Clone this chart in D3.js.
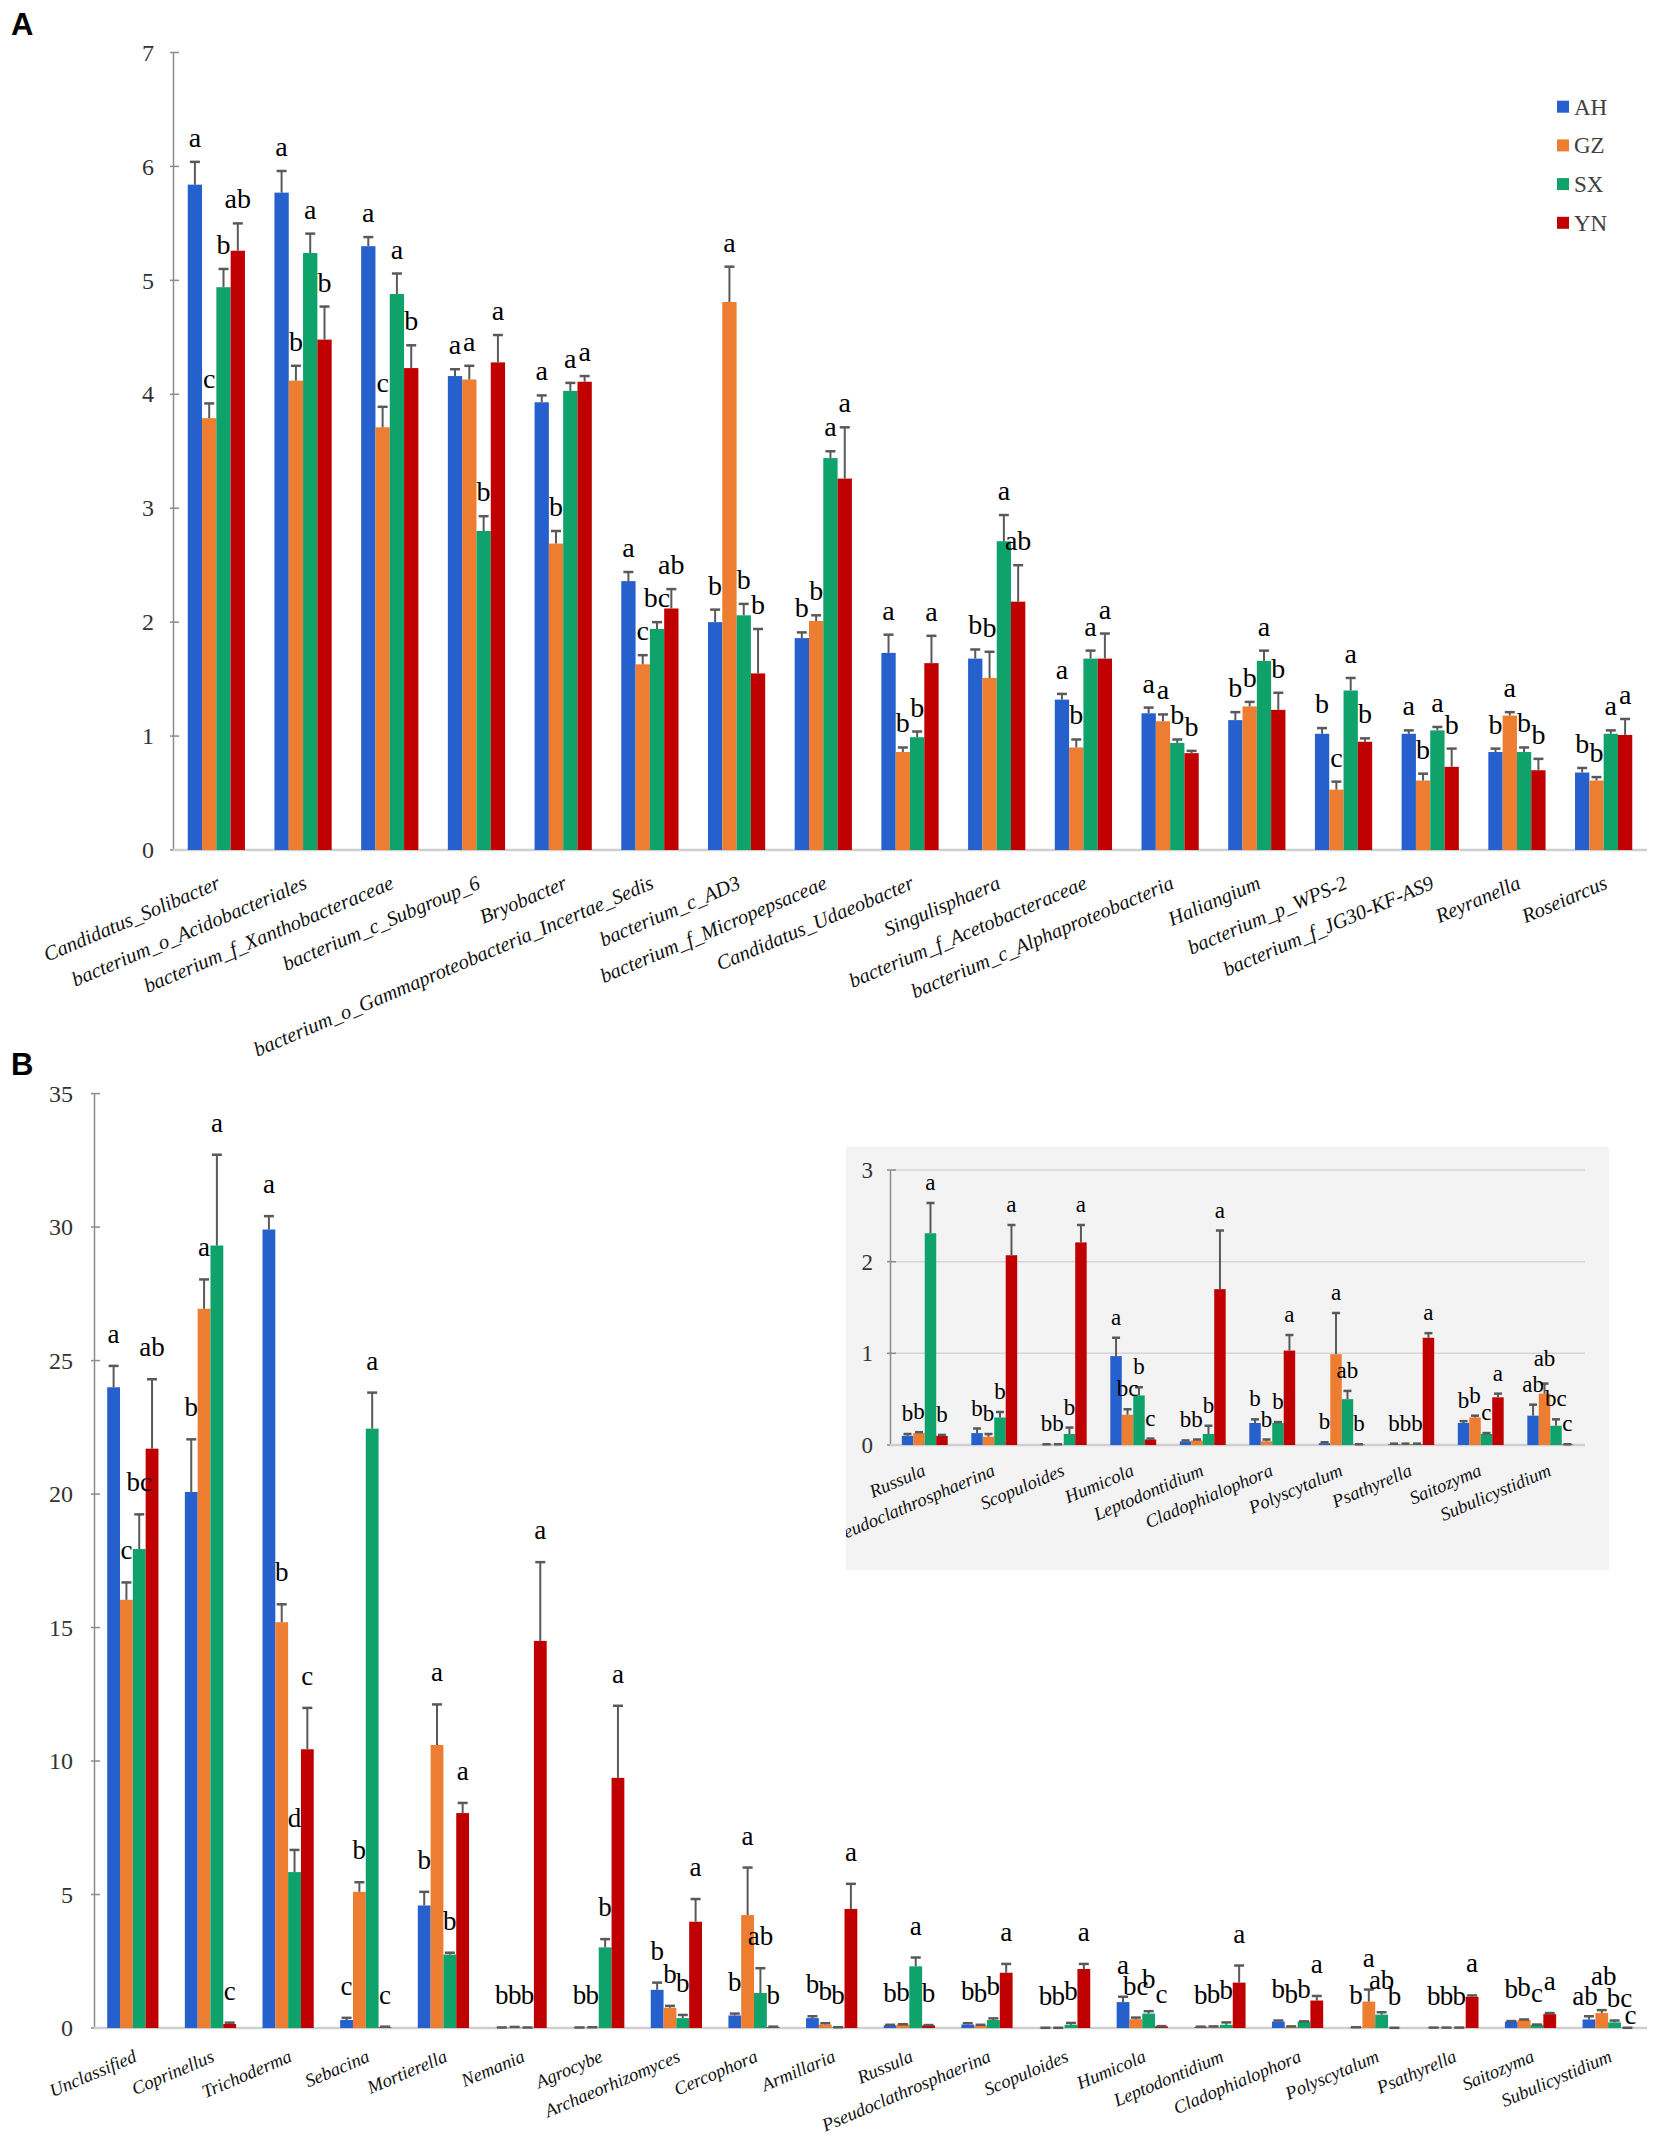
<!DOCTYPE html>
<html>
<head>
<meta charset="utf-8">
<script src="https://cdn.jsdelivr.net/npm/d3@7"></script>
<style>
  html, body { margin: 0; padding: 0; background: #ffffff; }
  svg { display: block; }
</style>
</head>
<body>
<svg id="chart" width="1654" height="2142"></svg>
<script>
// ---------------- DATA ----------------
const groups = ["AH", "GZ", "SX", "YN"];
const groupColors = ["#2660CC", "#ED7D31", "#0FA36B", "#C00000"];

// Panel A (bacteria)
const catsA = ["Candidatus_Solibacter", "bacterium_o_Acidobacteriales", "bacterium_f_Xanthobacteraceae",
  "bacterium_c_Subgroup_6", "Bryobacter", "bacterium_o_Gammaproteobacteria_Incertae_Sedis", "bacterium_c_AD3",
  "bacterium_f_Micropepsaceae", "Candidatus_Udaeobacter", "Singulisphaera", "bacterium_f_Acetobacteraceae",
  "bacterium_c_Alphaproteobacteria", "Haliangium", "bacterium_p_WPS-2", "bacterium_f_JG30-KF-AS9",
  "Reyranella", "Roseiarcus"];
const ticksA = [0, 1, 2, 3, 4, 5, 6, 7];
const ahA = [5.84, 5.77, 5.30, 4.16, 3.93, 2.36, 2.00, 1.86, 1.73, 1.68, 1.32, 1.20, 1.14, 1.02, 1.02, 0.86, 0.68];
const gzA = [3.79, 4.12, 3.71, 4.13, 2.69, 1.63, 4.81, 2.01, 0.86, 1.51, 0.90, 1.13, 1.26, 0.53, 0.61, 1.18, 0.61];
const sxA = [4.94, 5.24, 4.88, 2.80, 4.03, 1.94, 2.06, 3.44, 0.99, 2.71, 1.68, 0.94, 1.66, 1.40, 1.05, 0.86, 1.02];
const ynA = [5.26, 4.48, 4.23, 4.28, 4.11, 2.12, 1.55, 3.26, 1.64, 2.18, 1.68, 0.85, 1.23, 0.95, 0.73, 0.70, 1.01];
const ahErrA = [0.20, 0.19, 0.08, 0.06, 0.06, 0.08, 0.11, 0.05, 0.16, 0.08, 0.05, 0.05, 0.07, 0.05, 0.03, 0.03, 0.04];
const gzErrA = [0.13, 0.13, 0.18, 0.12, 0.11, 0.08, 0.31, 0.05, 0.04, 0.23, 0.07, 0.06, 0.04, 0.07, 0.06, 0.03, 0.03];
const sxErrA = [0.16, 0.17, 0.18, 0.13, 0.07, 0.06, 0.10, 0.06, 0.05, 0.23, 0.07, 0.03, 0.09, 0.11, 0.03, 0.04, 0.03];
const ynErrA = [0.24, 0.29, 0.20, 0.24, 0.05, 0.17, 0.39, 0.45, 0.24, 0.32, 0.22, 0.02, 0.15, 0.03, 0.16, 0.10, 0.14];
const ahLetA = ["a","a","a","a","a","a","b","b","a","b","a","a","b","b","a","b","b"];
const gzLetA = ["c","b","c","a","b","c","a","b","b","b","b","a","b","c","b","a","b"];
const sxLetA = ["b","a","a","b","a","bc","b","a","b","a","a","b","a","a","a","b","a"];
const ynLetA = ["ab","b","b","a","a","ab","b","a","a","ab","a","b","b","b","b","b","a"];

// Panel B (fungi)
const catsB = ["Unclassified", "Coprinellus", "Trichoderma", "Sebacina", "Mortierella", "Nemania", "Agrocybe",
  "Archaeorhizomyces", "Cercophora", "Armillaria", "Russula", "Pseudoclathrosphaerina", "Scopuloides",
  "Humicola", "Leptodontidium", "Cladophialophora", "Polyscytalum", "Psathyrella", "Saitozyma", "Subulicystidium"];
const ticksB = [0, 5, 10, 15, 20, 25, 30, 35];
const ticksInset = [0, 1, 2, 3];
const ahB = [24.0, 20.08, 29.91, 0.30, 4.59, 0.01, 0.01, 1.43, 0.47, 0.37, 0.10, 0.13, 0.005, 0.97, 0.04, 0.24, 0.02, 0.01, 0.24, 0.32];
const gzB = [16.04, 26.94, 15.2, 5.10, 10.6, 0.03, 0.02, 0.76, 4.23, 0.13, 0.13, 0.09, 0.005, 0.33, 0.05, 0.04, 0.99, 0.01, 0.30, 0.56];
const sxB = [17.94, 29.31, 5.84, 22.45, 2.75, 0.01, 3.02, 0.37, 1.31, 0.02, 2.31, 0.30, 0.12, 0.54, 0.12, 0.24, 0.50, 0.01, 0.12, 0.21];
const ynB = [21.7, 0.15, 10.44, 0.03, 8.05, 14.5, 9.37, 3.98, 0.03, 4.46, 0.10, 2.07, 2.21, 0.06, 1.70, 1.03, 0.005, 1.17, 0.52, 0.005];
const ahErrB = [0.8, 1.97, 0.5, 0.08, 0.51, 0.01, 0.01, 0.27, 0.07, 0.07, 0.02, 0.05, 0.003, 0.2, 0.01, 0.04, 0.01, 0.005, 0.02, 0.12];
const gzErrB = [0.65, 1.1, 0.67, 0.36, 1.52, 0.01, 0.01, 0.07, 1.78, 0.05, 0.01, 0.03, 0.003, 0.06, 0.01, 0.02, 0.45, 0.005, 0.02, 0.11];
const sxErrB = [1.3, 3.4, 0.83, 1.35, 0.07, 0.01, 0.31, 0.12, 0.93, 0.01, 0.33, 0.06, 0.07, 0.09, 0.09, 0.01, 0.09, 0.005, 0.01, 0.07];
const ynErrB = [2.6, 0.05, 1.55, 0.02, 0.38, 2.95, 2.7, 0.85, 0.02, 0.94, 0.01, 0.33, 0.19, 0.01, 0.64, 0.17, 0.003, 0.05, 0.04, 0.003];
const ahLetB = ["a","b","a","c","b","b","b","b","b","b","b","b","b","a","b","b","b","b","b","ab"];
const gzLetB = ["c","a","b","b","a","b","b","b","a","b","b","b","b","bc","b","b","a","b","b","ab"];
const sxLetB = ["bc","a","d","a","b","b","b","b","ab","b","a","b","b","b","b","b","ab","b","c","bc"];
const ynLetB = ["ab","c","c","c","a","a","a","a","b","a","b","a","a","c","a","a","b","a","a","c"];
const insetStart = 10; // inset shows Russula ... Subulicystidium

// ---------------- DRAWING ----------------
const svg = d3.select("#chart");
const SERIF = "'Liberation Serif', 'Times New Roman', serif";

function buildRows(cats, vals, errs, lets, from) {
  return cats.slice(from).map((c, i) => ({
    cat: c,
    items: groups.map((g, k) => ({
      g, k, cat: c,
      v: vals[k][i + from],
      e: errs[k][i + from],
      l: lets[k][i + from]
    }))
  }));
}

function drawPanel(opt) {
  const g = svg.append("g");
  if (opt.clipId) g.attr("clip-path", `url(#${opt.clipId})`);
  const x0 = d3.scaleBand().domain(opt.rows.map(r => r.cat)).range([opt.x0, opt.x1])
    .paddingInner(0.34).paddingOuter(0.17);
  const x1 = d3.scaleBand().domain(groups).range([0, x0.bandwidth()]);
  const y = d3.scaleLinear().domain(opt.domain).range([opt.yBottom, opt.yTop]);
  const nudge = opt.nudge || {};

  if (opt.grid) {
    g.append("g").selectAll("line").data(opt.ticks.filter(t => t > 0)).join("line")
      .attr("x1", opt.x0).attr("x2", opt.gridEnd)
      .attr("y1", d => y(d)).attr("y2", d => y(d))
      .attr("stroke", "#d6d6d6").attr("stroke-width", 1.5);
  }

  const axis = d3.axisLeft(y).tickValues(opt.ticks).tickSize(0).tickPadding(opt.tickPad).tickFormat(d3.format("d"));
  const ag = g.append("g").attr("transform", `translate(${opt.x0},0)`).call(axis);
  ag.select(".domain").attr("stroke", "#8c8c8c").attr("stroke-width", 1.5);
  ag.selectAll("text").attr("font-family", SERIF).attr("font-size", opt.tickFont).attr("fill", "#333");
  g.append("g").selectAll("line").data(opt.ticks).join("line")
    .attr("x1", opt.x0 - 3).attr("x2", opt.x0 + 6)
    .attr("y1", d => y(d)).attr("y2", d => y(d))
    .attr("stroke", "#8c8c8c").attr("stroke-width", 1.5);

  g.append("line").attr("x1", opt.x0).attr("x2", opt.baseEnd)
    .attr("y1", y(0)).attr("y2", y(0))
    .attr("stroke", "#cfcfcf").attr("stroke-width", 2.5);

  const cg = g.append("g").selectAll("g").data(opt.rows).join("g")
    .attr("transform", d => `translate(${x0(d.cat)},0)`);

  cg.selectAll("rect").data(d => d.items).join("rect")
    .attr("x", d => x1(d.g)).attr("width", x1.bandwidth())
    .attr("y", d => y(d.v)).attr("height", d => y(0) - y(d.v))
    .attr("fill", d => groupColors[d.k]);

  const eb = cg.selectAll("g.err").data(d => d.items).join("g").attr("class", "err");
  eb.append("line")
    .attr("x1", d => x1(d.g) + x1.bandwidth() / 2).attr("x2", d => x1(d.g) + x1.bandwidth() / 2)
    .attr("y1", d => y(d.v)).attr("y2", d => y(d.v + d.e))
    .attr("stroke", "#595959").attr("stroke-width", 2);
  eb.append("line")
    .attr("x1", d => x1(d.g) + x1.bandwidth() / 2 - opt.cap).attr("x2", d => x1(d.g) + x1.bandwidth() / 2 + opt.cap)
    .attr("y1", d => y(d.v + d.e)).attr("y2", d => y(d.v + d.e))
    .attr("stroke", "#595959").attr("stroke-width", 2.5);

  cg.selectAll("text.let").data(d => d.items).join("text").attr("class", "let")
    .attr("x", d => x1(d.g) + x1.bandwidth() / 2 + ((nudge[d.cat + "|" + d.g] || [0, 0])[0]))
    .attr("y", d => y(d.v + d.e) - opt.letGap + ((nudge[d.cat + "|" + d.g] || [0, 0])[1]))
    .attr("text-anchor", "middle")
    .attr("font-family", SERIF).attr("font-size", opt.letFont).attr("fill", "#000")
    .text(d => d.l);

  g.append("g").selectAll("text").data(opt.rows).join("text")
    .attr("transform", d => `translate(${x0(d.cat) + x0.bandwidth() / 2 + opt.labDx},${y(0) + opt.labDy}) rotate(-23)`)
    .attr("text-anchor", "end")
    .attr("font-family", SERIF).attr("font-style", "italic").attr("font-size", opt.labFont).attr("fill", "#111")
    .text(d => d.cat);
}

// Panel letters
svg.append("text").attr("x", 11).attr("y", 35).attr("font-family", "'Liberation Sans', Arial, sans-serif")
  .attr("font-weight", "bold").attr("font-size", 31).text("A");
svg.append("text").attr("x", 11).attr("y", 1075).attr("font-family", "'Liberation Sans', Arial, sans-serif")
  .attr("font-weight", "bold").attr("font-size", 31).text("B");

// Panel A
drawPanel({
  rows: buildRows(catsA, [ahA, gzA, sxA, ynA], [ahErrA, gzErrA, sxErrA, ynErrA], [ahLetA, gzLetA, sxLetA, ynLetA], 0),
  x0: 173, x1: 1647, baseEnd: 1647, domain: [0, 7], yBottom: 850, yTop: 52.5, ticks: ticksA,
  tickPad: 19, tickFont: 24, cap: 5, letGap: 15, letFont: 28, labDx: 5, labDy: 38, labFont: 20.5
});

// Legend
const leg = svg.append("g").selectAll("g").data(groups).join("g")
  .attr("transform", (d, i) => `translate(1557,${106.7 + i * 38.7})`);
leg.append("rect").attr("x", 0).attr("y", -6).attr("width", 12).attr("height", 12)
  .attr("fill", (d, i) => groupColors[i]);
leg.append("text").attr("x", 17).attr("y", 0).attr("dy", "0.35em")
  .attr("font-family", SERIF).attr("font-size", 23).attr("fill", "#404040").text(d => d);

// Panel B
drawPanel({
  rows: buildRows(catsB, [ahB, gzB, sxB, ynB], [ahErrB, gzErrB, sxErrB, ynErrB], [ahLetB, gzLetB, sxLetB, ynLetB], 0),
  x0: 94, x1: 1647, baseEnd: 1647, domain: [0, 35], yBottom: 2028, yTop: 1093.6, ticks: ticksB,
  tickPad: 21, tickFont: 24, cap: 5, letGap: 23, letFont: 27, labDx: 5, labDy: 33, labFont: 18.5,
  nudge: {
    "Subulicystidium|AH": [-4, 12], "Subulicystidium|GZ": [2, -2],
    "Subulicystidium|SX": [5, 9], "Subulicystidium|YN": [3, 19]
  }
});

// Inset
const defs = svg.append("defs");
defs.append("clipPath").attr("id", "insetClip").append("rect")
  .attr("x", 846).attr("y", 1147).attr("width", 763).attr("height", 423);
svg.append("rect").attr("x", 846).attr("y", 1147).attr("width", 763).attr("height", 423)
  .attr("fill", "#f3f3f3");
drawPanel({
  rows: buildRows(catsB, [ahB, gzB, sxB, ynB], [ahErrB, gzErrB, sxErrB, ynErrB], [ahLetB, gzLetB, sxLetB, ynLetB], insetStart),
  x0: 890, x1: 1585, baseEnd: 1585, gridEnd: 1585, grid: true, domain: [0, 3], yBottom: 1445, yTop: 1170,
  ticks: ticksInset, tickPad: 17, tickFont: 23, cap: 4, letGap: 13, letFont: 23, labDx: 2, labDy: 30, labFont: 18.5,
  clipId: "insetClip",
  nudge: { "Subulicystidium|GZ": [0, -5] }
});
</script>
</body>
</html>
